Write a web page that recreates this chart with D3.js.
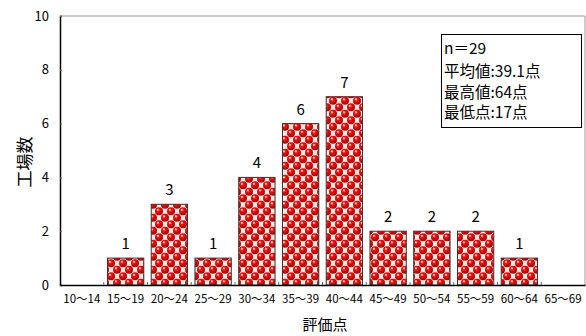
<!DOCTYPE html>
<html>
<head>
<meta charset="utf-8">
<script src="https://cdn.jsdelivr.net/npm/d3@7"></script>
<style>
  body { margin: 0; background: #fff; }
  svg { display: block; }
  text { font-family: "Noto Sans CJK JP", "DejaVu Sans", sans-serif; fill: #000; }
</style>
</head>
<body>
<script>
// Score bands and number of factories in each band
const categories = ["10～14", "15～19", "20～24", "25～29", "30～34", "35～39",
                    "40～44", "45～49", "50～54", "55～59", "60～64", "65～69"];
const counts = [0, 1, 3, 1, 4, 6, 7, 2, 2, 2, 1, 0];
const yTicks = [0, 2, 4, 6, 8, 10];
const summaryLines = ["n＝29", "平均値:39.1点", "最高値:64点", "最低点:17点"];
const yTitle = "工場数";
const xTitle = "評価点";

const W = 586, H = 336;
const margin = { left: 60, right: 1, top: 16, bottom: 51 };

const svg = d3.select("body").append("svg")
  .attr("width", W).attr("height", H);

// Bead-like fill for the bars: red spheres on a pink/white checkerboard
const defs = svg.append("defs");
const grad = defs.append("radialGradient").attr("id", "bead")
  .attr("cx", "40%").attr("cy", "35%").attr("r", "65%");
grad.append("stop").attr("offset", "0%").attr("stop-color", "#ff8a8a");
grad.append("stop").attr("offset", "30%").attr("stop-color", "#f01010");
grad.append("stop").attr("offset", "100%").attr("stop-color", "#a80000");

const pat = defs.append("pattern").attr("id", "beads")
  .attr("patternUnits", "userSpaceOnUse")
  .attr("width", 12).attr("height", 13);
pat.append("rect").attr("width", 12).attr("height", 13).attr("fill", "#f5a8a8");
pat.append("rect").attr("x", 6).attr("y", 0).attr("width", 6).attr("height", 6.5).attr("fill", "#fde8e2");
pat.append("rect").attr("x", 0).attr("y", 6.5).attr("width", 6).attr("height", 6.5).attr("fill", "#fde8e2");
[[3, 3.25], [9, 9.75]].forEach(([cx, cy]) => {
  pat.append("circle").attr("cx", cx).attr("cy", cy).attr("r", 4).attr("fill", "url(#bead)");
  pat.append("circle").attr("cx", cx - 1.2).attr("cy", cy - 1.4).attr("r", 1).attr("fill", "#ffe0e0").attr("opacity", 0.85);
});
// wrap-around copies so beads crossing the tile edge stay round
[[15, 3.25], [-3, 9.75], [9, -3.25], [3, 16.25]].forEach(([cx, cy]) => {
  pat.append("circle").attr("cx", cx).attr("cy", cy).attr("r", 4).attr("fill", "url(#bead)");
});

const x = d3.scaleBand()
  .domain(categories)
  .range([margin.left, W - margin.right])
  .paddingInner(0.17).paddingOuter(0.085);

const y = d3.scaleLinear()
  .domain([0, 10])
  .range([H - margin.bottom, margin.top]);

// Plot frame: grey top and right edges
svg.append("line")
  .attr("x1", margin.left).attr("x2", W - margin.right)
  .attr("y1", y(10)).attr("y2", y(10))
  .attr("stroke", "#999").attr("stroke-width", 1);
svg.append("line")
  .attr("x1", W - margin.right).attr("x2", W - margin.right)
  .attr("y1", y(10)).attr("y2", y(0))
  .attr("stroke", "#999").attr("stroke-width", 1);

const barData = categories.map((c, i) => ({ c, v: counts[i] })).filter(d => d.v > 0);

// Bars
svg.append("g").selectAll("rect")
  .data(barData)
  .join("rect")
  .attr("x", d => x(d.c))
  .attr("y", d => y(d.v))
  .attr("width", x.bandwidth())
  .attr("height", d => y(0) - y(d.v))
  .attr("fill", "url(#beads)")
  .attr("stroke", "#333")
  .attr("stroke-width", 1);

// Value labels
svg.append("g").selectAll("text")
  .data(barData)
  .join("text")
  .attr("x", d => x(d.c) + x.bandwidth() / 2)
  .attr("y", d => y(d.v) - 9)
  .attr("text-anchor", "middle")
  .attr("font-size", 15)
  .attr("font-family", "'Liberation Sans', sans-serif")
  .text(d => d.v);

// Y axis
const yAxis = svg.append("g")
  .attr("transform", `translate(${margin.left},0)`)
  .call(d3.axisLeft(y).tickValues(yTicks).tickSize(-2).tickPadding(11));
yAxis.select(".domain").attr("stroke", "#000").attr("stroke-width", 1.5);
yAxis.selectAll(".tick line").attr("stroke", "#666");
yAxis.selectAll(".tick text")
  .attr("font-size", 13)
  .attr("font-family", "'Liberation Sans', sans-serif");

// X axis with inside ticks on the band boundaries
const xAxis = svg.append("g")
  .attr("transform", `translate(0,${y(0)})`)
  .call(d3.axisBottom(x).tickSize(0).tickPadding(10));
xAxis.select(".domain").attr("stroke", "#000").attr("stroke-width", 1.5);
xAxis.selectAll(".tick text")
  .attr("font-size", 11.5)
  .attr("font-family", "'Noto Sans CJK JP', sans-serif");
const step = x.step();
svg.append("g").selectAll("line")
  .data(categories.slice(1))
  .join("line")
  .attr("x1", d => x(d) - step * x.paddingInner() / 2)
  .attr("x2", d => x(d) - step * x.paddingInner() / 2)
  .attr("y1", y(0)).attr("y2", y(0) - 3)
  .attr("stroke", "#666");

// Axis titles
svg.append("text")
  .attr("transform", `translate(31,162) rotate(-90)`)
  .attr("text-anchor", "middle")
  .attr("font-size", 17)
  .text(yTitle);
svg.append("text")
  .attr("x", 325).attr("y", 330)
  .attr("text-anchor", "middle")
  .attr("font-size", 15)
  .text(xTitle);

// Summary box
const box = svg.append("g");
box.append("rect")
  .attr("x", 441.5).attr("y", 34.5).attr("width", 140).attr("height", 93)
  .attr("fill", "#fff").attr("stroke", "#000").attr("stroke-width", 1);
box.selectAll("text")
  .data(summaryLines)
  .join("text")
  .attr("x", 444)
  .attr("y", (d, i) => [53.5, 77, 97.5, 118][i])
  .attr("font-size", 15.5)
  .text(d => d);
</script>
</body>
</html>
